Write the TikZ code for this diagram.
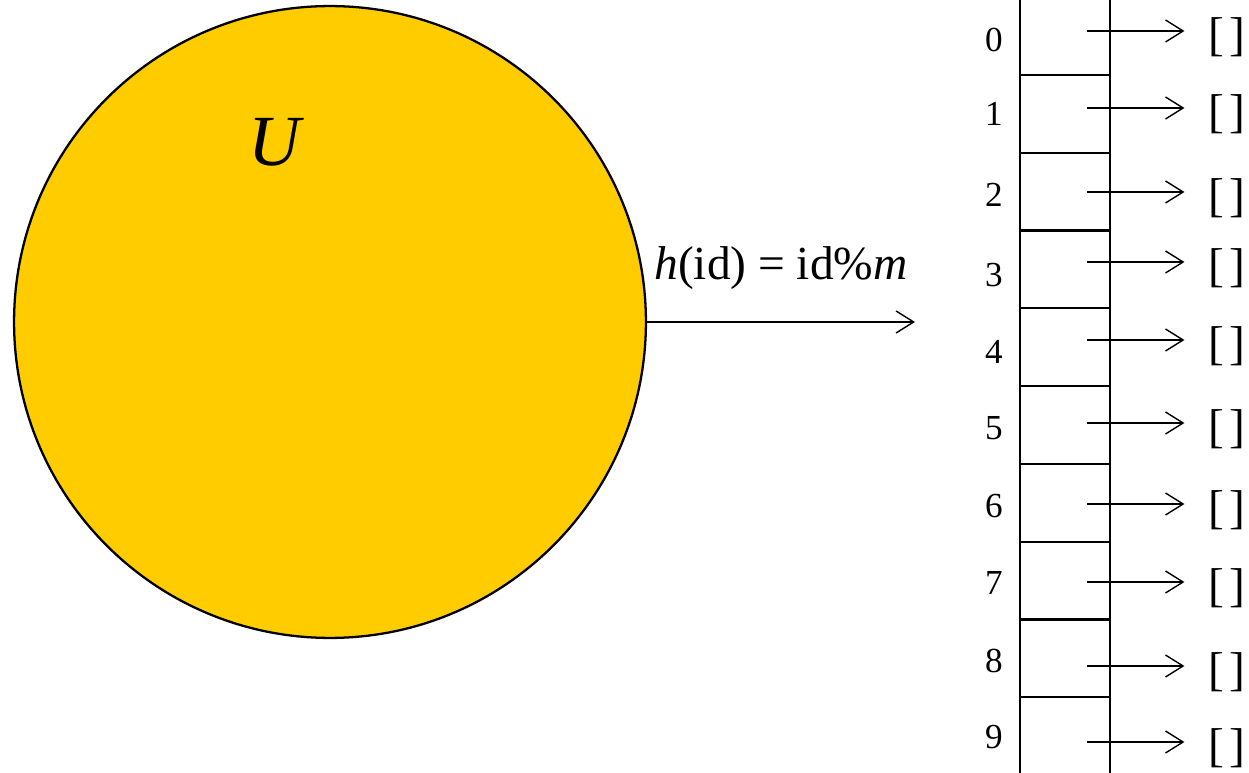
\documentclass[tikz,border=0pt]{standalone}
\usepackage{fontspec}
\setmainfont{Liberation Serif}
\usetikzlibrary{arrows.meta}
\definecolor{setyellow}{RGB}{255,204,0}
\tikzset{
	cell/.style={draw, line width=1.3pt, minimum width=1.8cm, minimum height=1.556cm, inner sep=0},
	slot/.style={inner sep=0, font=\fontsize{27}{30}\selectfont},
	idx/.style={inner sep=0, font=\fontsize{20}{24}\selectfont},
	>={Straight Barb[length=10pt,width=12.5pt]}
}
\begin{document}
\begin{tikzpicture}[x=0.02cm, y=-0.02cm]
		\useasboundingbox (0,0) rectangle (1249,773);
		% Множество U
		\node[circle, draw, line width=1.3pt, fill=setyellow, minimum size=12.64cm, inner sep=0] (U) at (330,322) {};
		\node (Ulabel) at (275,142) {\fontsize{41}{45}\selectfont\itshape U};
		
		% Хеш-функция
		\coordinate (hend) at (915,322);
		\draw[->, line width=0.8pt] (U.east) -- (hend);
		\node (hlabel) at (781,268) {\fontsize{27}{30}\selectfont\textit{h}(id) = id\%\textit{m}};
		
		% Таблица
		\foreach \i in {0,...,9} {
			\node[cell] (c\i) at (1065,36+77.8*\i) {};
		}
		\foreach \i/\ya/\yn in {0/31/40,1/108/114,2/192/195,3/262/275,4/340/352,5/423/428,6/504/506,7/582/583,8/666/661,9/742/737} {
			\node[idx] (n\i) at (994,\yn) {\i};
			\coordinate (s\i) at (1087,\ya);
			\node[slot, anchor=east] (b\i) at (1246,\ya+6) {[\kern3pt]};
			\draw[->, line width=0.8pt, shorten >=0.48cm] (s\i) -- (s\i -| b\i.west);
		}
	\end{tikzpicture}
\end{document}
